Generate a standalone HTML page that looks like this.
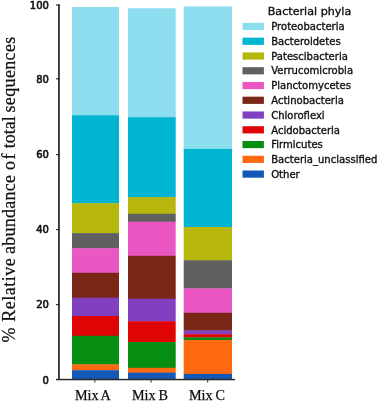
<!DOCTYPE html>
<html><head><meta charset="utf-8"><title>Bacterial phyla</title>
<style>
html,body{margin:0;padding:0;background:#fff;}
body{width:378px;height:401px;overflow:hidden;}
svg{display:block;}
.tk{font-family:"DejaVu Sans","Liberation Sans",sans-serif;font-size:10px;fill:#111;stroke:#111;stroke-width:0.6px;}
.lg{font-family:"DejaVu Sans","Liberation Sans",sans-serif;font-size:10.05px;fill:#111;stroke:#111;stroke-width:0.35px;}
.lt{font-family:"DejaVu Sans","Liberation Sans",sans-serif;font-size:11.15px;fill:#111;stroke:#111;stroke-width:0.35px;}
.sf{font-family:"Liberation Serif","DejaVu Serif",serif;fill:#111;stroke:#111;stroke-width:0.25px;}
</style></head><body>
<svg width="378" height="401" viewBox="0 0 378 401">
<rect width="378" height="401" fill="#fff"/>
<rect x="72" y="7" width="47.0" height="108.6" fill="#8ddff0"/>
<rect x="72" y="115.3" width="47.0" height="88.2" fill="#00b5d2"/>
<rect x="72" y="203.2" width="47.0" height="30.2" fill="#b6b60c"/>
<rect x="72" y="233.1" width="47.0" height="15.4" fill="#606060"/>
<rect x="72" y="248.2" width="47.0" height="24.9" fill="#ea56c2"/>
<rect x="72" y="272.8" width="47.0" height="25.2" fill="#7a2718"/>
<rect x="72" y="297.7" width="47.0" height="18.6" fill="#8040c0"/>
<rect x="72" y="316" width="47.0" height="20.1" fill="#e00505"/>
<rect x="72" y="335.8" width="47.0" height="28.9" fill="#068e12"/>
<rect x="72" y="364.4" width="47.0" height="6.1" fill="#ff6a10"/>
<rect x="72" y="370.2" width="47.0" height="9.1" fill="#1559b8"/>
<rect x="128" y="8.2" width="47.7" height="109.3" fill="#8ddff0"/>
<rect x="128" y="117.2" width="47.7" height="80.3" fill="#00b5d2"/>
<rect x="128" y="197.2" width="47.7" height="16.9" fill="#b6b60c"/>
<rect x="128" y="213.8" width="47.7" height="8.2" fill="#606060"/>
<rect x="128" y="221.7" width="47.7" height="34.4" fill="#ea56c2"/>
<rect x="128" y="255.8" width="47.7" height="43.3" fill="#7a2718"/>
<rect x="128" y="298.8" width="47.7" height="22.7" fill="#8040c0"/>
<rect x="128" y="321.2" width="47.7" height="21.2" fill="#e00505"/>
<rect x="128" y="342.1" width="47.7" height="26.0" fill="#068e12"/>
<rect x="128" y="367.8" width="47.7" height="5.1" fill="#ff6a10"/>
<rect x="128" y="372.6" width="47.7" height="6.7" fill="#1559b8"/>
<rect x="183.7" y="6.4" width="48.3" height="142.8" fill="#8ddff0"/>
<rect x="183.7" y="148.9" width="48.3" height="78.4" fill="#00b5d2"/>
<rect x="183.7" y="227" width="48.3" height="33.6" fill="#b6b60c"/>
<rect x="183.7" y="260.3" width="48.3" height="28.4" fill="#606060"/>
<rect x="183.7" y="288.4" width="48.3" height="24.7" fill="#ea56c2"/>
<rect x="183.7" y="312.8" width="48.3" height="18.0" fill="#7a2718"/>
<rect x="183.7" y="330.5" width="48.3" height="4.0" fill="#8040c0"/>
<rect x="183.7" y="334.2" width="48.3" height="3.5" fill="#e00505"/>
<rect x="183.7" y="337.4" width="48.3" height="2.9" fill="#068e12"/>
<rect x="183.7" y="340" width="48.3" height="34.2" fill="#ff6a10"/>
<rect x="183.7" y="373.9" width="48.3" height="5.4" fill="#1559b8"/>
<g fill="#3c3c3c">
<rect x="58" y="4.5" width="1.9" height="375.5"/>
<rect x="56" y="378.8" width="179" height="1.5" fill="#2a2a2a"/>
<rect x="56" y="304.15" width="4" height="1.1" fill="#222"/>
<rect x="56" y="229.05" width="4" height="1.1" fill="#222"/>
<rect x="56" y="154.05" width="4" height="1.1" fill="#222"/>
<rect x="56" y="78.25" width="4" height="1.1" fill="#222"/>
<rect x="56" y="4.45" width="4" height="1.1" fill="#222"/>
<rect x="94.3" y="379.5" width="1.1" height="3"/>
<rect x="150.5" y="379.5" width="1.1" height="3"/>
<rect x="207.1" y="379.5" width="1.1" height="3"/>
</g>
<text class="tk" x="48.9" y="383.60" text-anchor="end">0</text>
<text class="tk" x="48.9" y="308.40" text-anchor="end">20</text>
<text class="tk" x="48.9" y="233.30" text-anchor="end">40</text>
<text class="tk" x="48.9" y="158.30" text-anchor="end">60</text>
<text class="tk" x="48.9" y="82.50" text-anchor="end">80</text>
<text class="tk" x="48.9" y="8.70" text-anchor="end">100</text>
<text class="sf" font-size="14.2" word-spacing="-0.8" x="75" y="400.2">Mix A</text>
<text class="sf" font-size="14.2" word-spacing="-0.8" x="132" y="400.2">Mix B</text>
<text class="sf" font-size="14.2" word-spacing="-0.8" x="189" y="400.2">Mix C</text>
<text class="sf" font-size="18" transform="translate(15,342.6) rotate(-90)"><tspan x="0">% </tspan><tspan x="20.8" letter-spacing="0.51">Relative </tspan><tspan x="88.5" letter-spacing="0.27">abundance </tspan><tspan x="172.7" letter-spacing="1.4">of </tspan><tspan x="194.4" letter-spacing="0">total </tspan><tspan x="230.1" letter-spacing="0.35">sequences</tspan></text>
<text class="lt" x="267.7" y="14.6">Bacterial phyla</text>
<rect x="242.5" y="22.90" width="21.4" height="7.2" fill="#8ddff0"/>
<text class="lg" x="271.2" y="30.20">Proteobacteria</text>
<rect x="242.5" y="37.66" width="21.4" height="7.2" fill="#00b5d2"/>
<text class="lg" x="271.2" y="44.96">Bacteroidetes</text>
<rect x="242.5" y="52.42" width="21.4" height="7.2" fill="#b6b60c"/>
<text class="lg" x="271.2" y="59.72">Patescibacteria</text>
<rect x="242.5" y="67.18" width="21.4" height="7.2" fill="#606060"/>
<text class="lg" x="271.2" y="74.48">Verrucomicrobia</text>
<rect x="242.5" y="81.94" width="21.4" height="7.2" fill="#ea56c2"/>
<text class="lg" x="271.2" y="89.24">Planctomycetes</text>
<rect x="242.5" y="96.70" width="21.4" height="7.2" fill="#7a2718"/>
<text class="lg" x="271.2" y="104.00">Actinobacteria</text>
<rect x="242.5" y="111.46" width="21.4" height="7.2" fill="#8040c0"/>
<text class="lg" x="271.2" y="118.76">Chloroflexi</text>
<rect x="242.5" y="126.22" width="21.4" height="7.2" fill="#e00505"/>
<text class="lg" x="271.2" y="133.52">Acidobacteria</text>
<rect x="242.5" y="140.98" width="21.4" height="7.2" fill="#068e12"/>
<text class="lg" x="271.2" y="148.28">Firmicutes</text>
<rect x="242.5" y="155.74" width="21.4" height="7.2" fill="#ff6a10"/>
<text class="lg" x="271.2" y="163.04">Bacteria_unclassified</text>
<rect x="242.5" y="170.50" width="21.4" height="7.2" fill="#1559b8"/>
<text class="lg" x="271.2" y="177.80">Other</text>
</svg>
</body></html>
